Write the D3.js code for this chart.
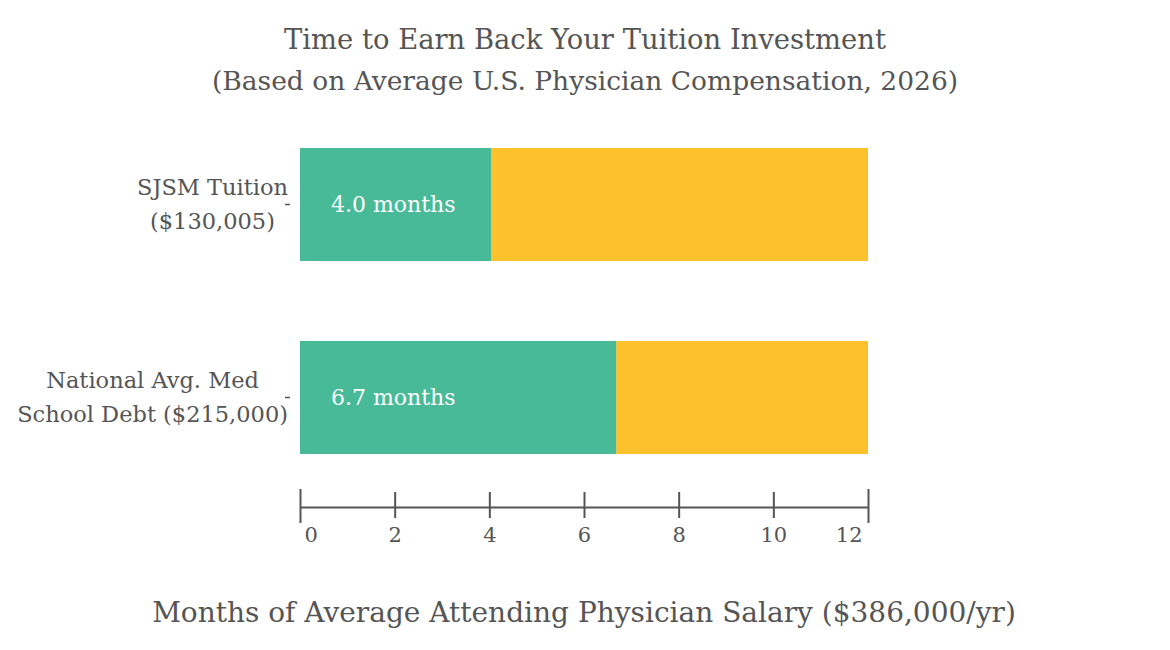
<!DOCTYPE html>
<html>
<head>
<meta charset="utf-8">
<script src="https://cdn.jsdelivr.net/npm/d3@7"></script>
<style>
  body { margin: 0; background: #fff; }
  text { font-family: "DejaVu Serif", "Liberation Serif", serif; fill: #555; }
</style>
</head>
<body>
<svg id="chart"></svg>
<script>
// data
const categories = [["SJSM Tuition", "($130,005)"], ["National Avg. Med", "School Debt ($215,000)"]];
const monthsToEarn = [4.04, 6.68];
const totalMonths = 12;
const xTicks = [0, 2, 4, 6, 8, 10, 12];
const titleLines = ["Time to Earn Back Your Tuition Investment", "(Based on Average U.S. Physician Compensation, 2026)"];
const xLabel = "Months of Average Attending Physician Salary ($386,000/yr)";

const width = 1170, height = 650;
const green = "#48ba98", yellow = "#fdc22b", ink = "#555";

const svg = d3.select("#chart").attr("width", width).attr("height", height);

const x = d3.scaleLinear().domain([0, totalMonths]).range([300, 868]);
const y = d3.scaleBand().domain(d3.range(categories.length)).range([68, 534]).padding(0.4145);

// title
svg.selectAll("text.title")
  .data(titleLines)
  .enter().append("text")
    .attr("class", "title")
    .attr("x", 585).attr("y", (d, i) => 49 + i * 41)
    .attr("text-anchor", "middle")
    .style("font-size", (d, i) => i === 0 ? "27.4px" : "26.5px")
    .text(d => d);

// bars: earned part then remaining part of the year
svg.selectAll("rect.rest")
  .data(monthsToEarn)
  .enter().append("rect")
    .attr("class", "rest")
    .attr("x", d => x(d)).attr("y", (d, i) => y(i))
    .attr("width", d => x(totalMonths) - x(d)).attr("height", y.bandwidth())
    .attr("fill", yellow);

svg.selectAll("rect.earn")
  .data(monthsToEarn)
  .enter().append("rect")
    .attr("class", "earn")
    .attr("x", x(0)).attr("y", (d, i) => y(i))
    .attr("width", d => x(d) - x(0)).attr("height", y.bandwidth())
    .attr("fill", green);

svg.selectAll("text.val")
  .data(monthsToEarn)
  .enter().append("text")
    .attr("class", "val")
    .attr("x", x(0) + 31).attr("y", (d, i) => y(i) + y.bandwidth() / 2)
    .attr("dy", "0.35em")
    .style("font-size", "22px").style("fill", "#fff")
    .text(d => `${d.toFixed(1)} months`);

// y axis: just the little ticks
const yAxis = svg.append("g")
  .attr("transform", "translate(290,0)")
  .call(d3.axisLeft(y).tickSize(5).tickFormat(""));
yAxis.select(".domain").remove();
yAxis.selectAll("line").attr("stroke", ink).attr("stroke-width", 1.5);

// category labels, lines centred, block sits left of the tick
categories.forEach((lines, i) => {
  const g = svg.append("g");
  const t = g.selectAll("text").data(lines).enter().append("text")
    .attr("y", (d, j) => y(i) + y.bandwidth() / 2 + (j - (lines.length - 1) / 2) * 34)
    .attr("dy", "0.35em")
    .attr("text-anchor", "middle")
    .style("font-size", "22.5px")
    .text(d => d);
  const w = d3.max(t.nodes(), n => n.getComputedTextLength());
  t.attr("x", 288 - w / 2);
});

// x axis
const xAxis = svg.append("g")
  .attr("transform", "translate(0,507)")
  .call(d3.axisBottom(x).tickValues(xTicks).tickSize(0).tickPadding(20));
xAxis.select(".domain").attr("stroke", ink).attr("stroke-width", 2);
xAxis.selectAll(".tick line")
  .attr("y1", (d, i) => (i === 0 || i === xTicks.length - 1) ? -18 : -15)
  .attr("y2", (d, i) => (i === 0 || i === xTicks.length - 1) ? 16 : 11)
  .attr("stroke", ink).attr("stroke-width", 2);
xAxis.selectAll(".tick text")
  .attr("fill", ink)
  .style("font-family", "DejaVu Serif, serif").style("font-size", "21px")
  .attr("text-anchor", (d, i) => i === 0 ? "start" : i === xTicks.length - 1 ? "end" : "middle")
  .attr("dx", (d, i) => i === 0 ? 4 : i === xTicks.length - 1 ? -6 : 0);

svg.append("text")
  .attr("x", 584).attr("y", 622)
  .attr("text-anchor", "middle")
  .style("font-size", "28px")
  .text(xLabel);
</script>
</body>
</html>
